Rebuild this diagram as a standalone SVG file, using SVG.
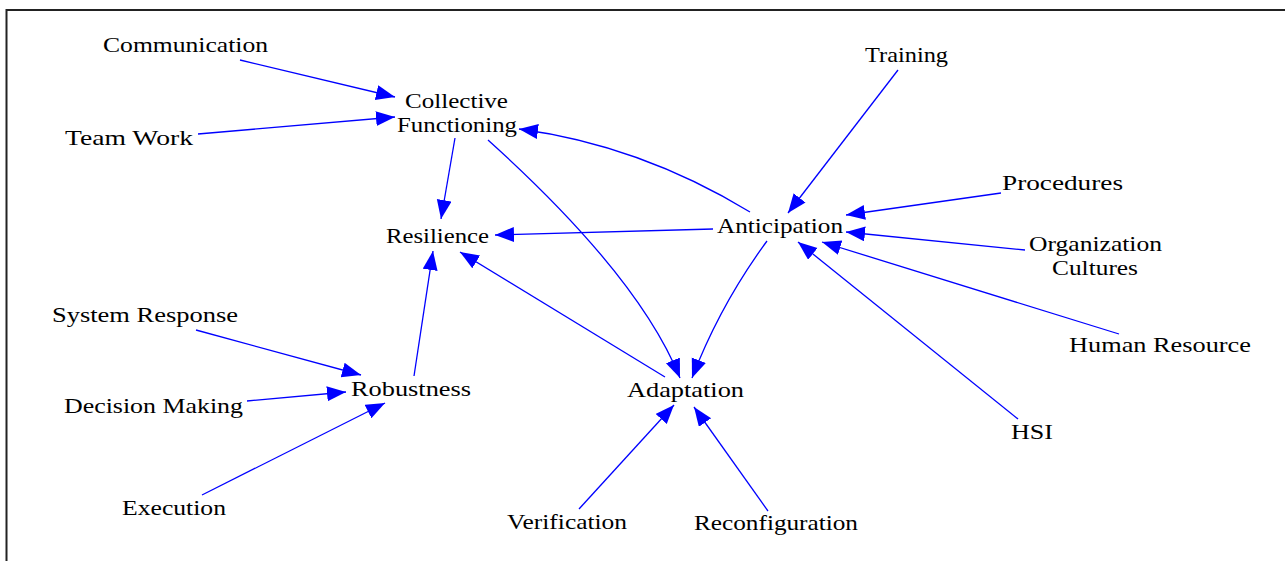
<svg xmlns="http://www.w3.org/2000/svg" width="1285" height="561" viewBox="0 0 1285 561">
<defs>
<marker id="ah" markerUnits="userSpaceOnUse" markerWidth="22" markerHeight="18" refX="19" refY="7.5" orient="auto">
<path d="M0,0 L19,7.5 L0,15 z" fill="#0000ff"/>
</marker>
<style>
text{font-family:"Liberation Serif","Times New Roman",serif;font-size:21px;fill:#000;}
.e{fill:none;stroke:#0000ff;stroke-width:1.3;marker-end:url(#ah);}
</style>
</defs>
<rect x="0" y="0" width="1285" height="561" fill="#ffffff"/>
<path d="M6.5,561 V10 H1285" fill="none" stroke="#222" stroke-width="2"/>
<g id="connectors">
<path class="e" d="M240,60 L395,97"/>
<path class="e" d="M198,134 L395,117"/>
<path class="e" d="M455,138 L441,219"/>
<path class="e" d="M488,140 Q639,276 680,378"/>
<path class="e" d="M750,212 Q640,145 519,129"/>
<path class="e" d="M713,229 L495,235"/>
<path class="e" d="M767,241 Q720,305 692,378"/>
<path class="e" d="M414,376 L433,251"/>
<path class="e" d="M665,377 L460,252"/>
<path class="e" d="M196,330 L361,375"/>
<path class="e" d="M247,401 L346,392"/>
<path class="e" d="M202,495 L385,403"/>
<path class="e" d="M579,509 L674,405"/>
<path class="e" d="M768,511 L694,407"/>
<path class="e" d="M898,70 L788,213"/>
<path class="e" d="M1001,193 L846,215"/>
<path class="e" d="M1025,250 L846,232"/>
<path class="e" d="M1119,334 L822,242"/>
<path class="e" d="M1018,419 L798,242"/>
</g>
<g id="communication"><text x="103" y="52" textLength="165" lengthAdjust="spacingAndGlyphs">Communication</text></g>
<g id="team-work"><text x="65" y="145" textLength="128" lengthAdjust="spacingAndGlyphs">Team Work</text></g>
<g id="collective-functioning"><text x="405" y="108" textLength="103" lengthAdjust="spacingAndGlyphs">Collective</text><text x="397" y="132" textLength="120" lengthAdjust="spacingAndGlyphs">Functioning</text></g>
<g id="resilience"><text x="386" y="243" textLength="103" lengthAdjust="spacingAndGlyphs">Resilience</text></g>
<g id="anticipation"><text x="717" y="233" textLength="126" lengthAdjust="spacingAndGlyphs">Anticipation</text></g>
<g id="adaptation"><text x="627" y="397" textLength="117" lengthAdjust="spacingAndGlyphs">Adaptation</text></g>
<g id="system-response"><text x="52" y="322" textLength="186" lengthAdjust="spacingAndGlyphs">System Response</text></g>
<g id="decision-making"><text x="64" y="413" textLength="179" lengthAdjust="spacingAndGlyphs">Decision Making</text></g>
<g id="robustness"><text x="351" y="396" textLength="120" lengthAdjust="spacingAndGlyphs">Robustness</text></g>
<g id="execution"><text x="122" y="515" textLength="104" lengthAdjust="spacingAndGlyphs">Execution</text></g>
<g id="verification"><text x="507" y="529" textLength="120" lengthAdjust="spacingAndGlyphs">Verification</text></g>
<g id="reconfiguration"><text x="694" y="530" textLength="164" lengthAdjust="spacingAndGlyphs">Reconfiguration</text></g>
<g id="training"><text x="865" y="62" textLength="83" lengthAdjust="spacingAndGlyphs">Training</text></g>
<g id="procedures"><text x="1002" y="190" textLength="121" lengthAdjust="spacingAndGlyphs">Procedures</text></g>
<g id="organization-cultures"><text x="1029" y="251" textLength="133" lengthAdjust="spacingAndGlyphs">Organization</text><text x="1052" y="275" textLength="86" lengthAdjust="spacingAndGlyphs">Cultures</text></g>
<g id="human-resource"><text x="1069" y="352" textLength="182" lengthAdjust="spacingAndGlyphs">Human Resource</text></g>
<g id="hsi"><text x="1011" y="439" textLength="42" lengthAdjust="spacingAndGlyphs">HSI</text></g>
</svg>
